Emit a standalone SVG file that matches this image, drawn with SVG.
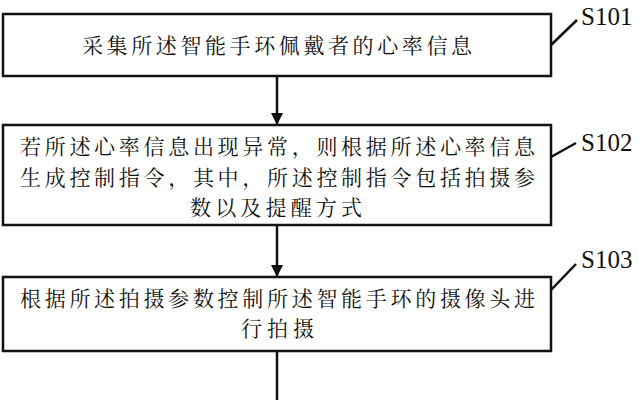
<svg xmlns="http://www.w3.org/2000/svg" width="639" height="400" viewBox="0 0 639 400">
<style>
.b{fill:#fff;stroke:#111;stroke-width:2.5}
.t{font-family:"Noto Serif CJK SC","Noto Sans CJK SC",serif;font-size:21px;fill:#111}
.s{font-family:"Liberation Serif",serif;font-size:25px;fill:#111}
.l{stroke:#111;stroke-width:2.5;fill:none}
</style>
<defs><marker id="a" markerWidth="12" markerHeight="12" refX="11" refY="6" orient="auto" markerUnits="userSpaceOnUse"><path d="M0,0L12,6L0,12z" fill="#111"/></marker></defs>
<rect width="639" height="400" fill="#fff"/>
<g id="connectors">
<line class="l" x1="277" y1="76" x2="277" y2="124" marker-end="url(#a)"/>
<line class="l" x1="277" y1="225" x2="277" y2="276" marker-end="url(#a)"/>
<line class="l" x1="277" y1="351" x2="277" y2="400"/>
<line class="l" x1="551" y1="45" x2="577" y2="20"/>
<line class="l" x1="551" y1="157" x2="576" y2="143"/>
<line class="l" x1="551" y1="290" x2="576" y2="264"/>
</g>
<g id="n1"><rect class="b" x="3" y="14" width="548" height="62"/><text class="t" x="82" y="53" textLength="390" lengthAdjust="spacing">采集所述智能手环佩戴者的心率信息</text><text class="s" x="581" y="25">S101</text></g>
<g id="n2"><rect class="b" x="3" y="125" width="548" height="100"/><text class="t" x="20" y="154" textLength="515" lengthAdjust="spacing">若所述心率信息出现异常，则根据所述心率信息</text><text class="t" x="20" y="185" textLength="515" lengthAdjust="spacing">生成控制指令，其中，所述控制指令包括拍摄参</text><text class="t" x="190" y="215" textLength="172" lengthAdjust="spacing">数以及提醒方式</text><text class="s" x="581" y="151">S102</text></g>
<g id="n3"><rect class="b" x="3" y="277" width="548" height="74"/><text class="t" x="20" y="306" textLength="515" lengthAdjust="spacing">根据所述拍摄参数控制所述智能手环的摄像头进</text><text class="t" x="241" y="336" textLength="73" lengthAdjust="spacing">行拍摄</text><text class="s" x="581" y="268">S103</text></g>
</svg>
